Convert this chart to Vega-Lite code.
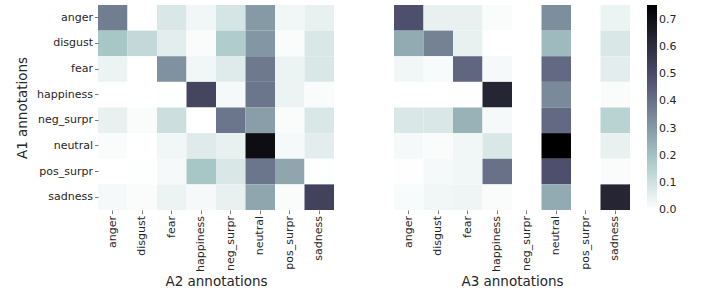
{
  "$schema": "https://vega.github.io/schema/vega-lite/v6.json",
  "padding": {"left": 15, "top": 5, "right": 5, "bottom": 5},
  "background": "white",
  "datasets": {
    "a2": [
      {"a1":"anger","o":"anger","v":0.37},{"a1":"anger","o":"disgust","v":0.0},{"a1":"anger","o":"fear","v":0.08},{"a1":"anger","o":"happiness","v":0.03},{"a1":"anger","o":"neg_surpr","v":0.09},{"a1":"anger","o":"neutral","v":0.30},{"a1":"anger","o":"pos_surpr","v":0.03},{"a1":"anger","o":"sadness","v":0.05},
      {"a1":"disgust","o":"anger","v":0.19},{"a1":"disgust","o":"disgust","v":0.13},{"a1":"disgust","o":"fear","v":0.06},{"a1":"disgust","o":"happiness","v":0.01},{"a1":"disgust","o":"neg_surpr","v":0.17},{"a1":"disgust","o":"neutral","v":0.31},{"a1":"disgust","o":"pos_surpr","v":0.01},{"a1":"disgust","o":"sadness","v":0.08},
      {"a1":"fear","o":"anger","v":0.04},{"a1":"fear","o":"disgust","v":0.0},{"a1":"fear","o":"fear","v":0.32},{"a1":"fear","o":"happiness","v":0.03},{"a1":"fear","o":"neg_surpr","v":0.07},{"a1":"fear","o":"neutral","v":0.38},{"a1":"fear","o":"pos_surpr","v":0.04},{"a1":"fear","o":"sadness","v":0.08},
      {"a1":"happiness","o":"anger","v":0.0},{"a1":"happiness","o":"disgust","v":0.0},{"a1":"happiness","o":"fear","v":0.005},{"a1":"happiness","o":"happiness","v":0.52},{"a1":"happiness","o":"neg_surpr","v":0.02},{"a1":"happiness","o":"neutral","v":0.39},{"a1":"happiness","o":"pos_surpr","v":0.04},{"a1":"happiness","o":"sadness","v":0.01},
      {"a1":"neg_surpr","o":"anger","v":0.05},{"a1":"neg_surpr","o":"disgust","v":0.01},{"a1":"neg_surpr","o":"fear","v":0.11},{"a1":"neg_surpr","o":"happiness","v":0.0},{"a1":"neg_surpr","o":"neg_surpr","v":0.39},{"a1":"neg_surpr","o":"neutral","v":0.29},{"a1":"neg_surpr","o":"pos_surpr","v":0.01},{"a1":"neg_surpr","o":"sadness","v":0.08},
      {"a1":"neutral","o":"anger","v":0.01},{"a1":"neutral","o":"disgust","v":0.0},{"a1":"neutral","o":"fear","v":0.03},{"a1":"neutral","o":"happiness","v":0.07},{"a1":"neutral","o":"neg_surpr","v":0.05},{"a1":"neutral","o":"neutral","v":0.71},{"a1":"neutral","o":"pos_surpr","v":0.02},{"a1":"neutral","o":"sadness","v":0.06},
      {"a1":"pos_surpr","o":"anger","v":0.0},{"a1":"pos_surpr","o":"disgust","v":0.005},{"a1":"pos_surpr","o":"fear","v":0.02},{"a1":"pos_surpr","o":"happiness","v":0.19},{"a1":"pos_surpr","o":"neg_surpr","v":0.08},{"a1":"pos_surpr","o":"neutral","v":0.39},{"a1":"pos_surpr","o":"pos_surpr","v":0.27},{"a1":"pos_surpr","o":"sadness","v":0.005},
      {"a1":"sadness","o":"anger","v":0.02},{"a1":"sadness","o":"disgust","v":0.01},{"a1":"sadness","o":"fear","v":0.04},{"a1":"sadness","o":"happiness","v":0.02},{"a1":"sadness","o":"neg_surpr","v":0.05},{"a1":"sadness","o":"neutral","v":0.27},{"a1":"sadness","o":"pos_surpr","v":0.01},{"a1":"sadness","o":"sadness","v":0.53}
    ],
    "a3": [
      {"a1":"anger","o":"anger","v":0.49},{"a1":"anger","o":"disgust","v":0.05},{"a1":"anger","o":"fear","v":0.05},{"a1":"anger","o":"happiness","v":0.01},{"a1":"anger","o":"neg_surpr","v":0.0},{"a1":"anger","o":"neutral","v":0.33},{"a1":"anger","o":"pos_surpr","v":0.0},{"a1":"anger","o":"sadness","v":0.04},
      {"a1":"disgust","o":"anger","v":0.26},{"a1":"disgust","o":"disgust","v":0.36},{"a1":"disgust","o":"fear","v":0.05},{"a1":"disgust","o":"happiness","v":0.0},{"a1":"disgust","o":"neg_surpr","v":0.0},{"a1":"disgust","o":"neutral","v":0.22},{"a1":"disgust","o":"pos_surpr","v":0.0},{"a1":"disgust","o":"sadness","v":0.08},
      {"a1":"fear","o":"anger","v":0.03},{"a1":"fear","o":"disgust","v":0.015},{"a1":"fear","o":"fear","v":0.43},{"a1":"fear","o":"happiness","v":0.02},{"a1":"fear","o":"neg_surpr","v":0.0},{"a1":"fear","o":"neutral","v":0.42},{"a1":"fear","o":"pos_surpr","v":0.0},{"a1":"fear","o":"sadness","v":0.06},
      {"a1":"happiness","o":"anger","v":0.0},{"a1":"happiness","o":"disgust","v":0.0},{"a1":"happiness","o":"fear","v":0.003},{"a1":"happiness","o":"happiness","v":0.63},{"a1":"happiness","o":"neg_surpr","v":0.0},{"a1":"happiness","o":"neutral","v":0.34},{"a1":"happiness","o":"pos_surpr","v":0.0},{"a1":"happiness","o":"sadness","v":0.01},
      {"a1":"neg_surpr","o":"anger","v":0.08},{"a1":"neg_surpr","o":"disgust","v":0.08},{"a1":"neg_surpr","o":"fear","v":0.24},{"a1":"neg_surpr","o":"happiness","v":0.02},{"a1":"neg_surpr","o":"neg_surpr","v":0.0},{"a1":"neg_surpr","o":"neutral","v":0.42},{"a1":"neg_surpr","o":"pos_surpr","v":0.0},{"a1":"neg_surpr","o":"sadness","v":0.15},
      {"a1":"neutral","o":"anger","v":0.02},{"a1":"neutral","o":"disgust","v":0.01},{"a1":"neutral","o":"fear","v":0.03},{"a1":"neutral","o":"happiness","v":0.08},{"a1":"neutral","o":"neg_surpr","v":0.0},{"a1":"neutral","o":"neutral","v":0.755},{"a1":"neutral","o":"pos_surpr","v":0.0},{"a1":"neutral","o":"sadness","v":0.05},
      {"a1":"pos_surpr","o":"anger","v":0.003},{"a1":"pos_surpr","o":"disgust","v":0.02},{"a1":"pos_surpr","o":"fear","v":0.03},{"a1":"pos_surpr","o":"happiness","v":0.40},{"a1":"pos_surpr","o":"neg_surpr","v":0.0},{"a1":"pos_surpr","o":"neutral","v":0.49},{"a1":"pos_surpr","o":"pos_surpr","v":0.0},{"a1":"pos_surpr","o":"sadness","v":0.01},
      {"a1":"sadness","o":"anger","v":0.015},{"a1":"sadness","o":"disgust","v":0.03},{"a1":"sadness","o":"fear","v":0.035},{"a1":"sadness","o":"happiness","v":0.01},{"a1":"sadness","o":"neg_surpr","v":0.0},{"a1":"sadness","o":"neutral","v":0.26},{"a1":"sadness","o":"pos_surpr","v":0.0},{"a1":"sadness","o":"sadness","v":0.63}
    ]
  },
  "spacing": 60,
  "hconcat": [
    {
      "width": 236,
      "height": 205,
      "data": {"name": "a2"},
      "mark": {"type": "rect", "strokeWidth": 0},
      "encoding": {
        "x": {"field": "o", "type": "nominal", "title": "A2 annotations",
              "sort": ["anger","disgust","fear","happiness","neg_surpr","neutral","pos_surpr","sadness"],
              "scale": {"paddingInner": 0, "paddingOuter": 0}},
        "y": {"field": "a1", "type": "nominal", "title": "A1 annotations",
              "sort": ["anger","disgust","fear","happiness","neg_surpr","neutral","pos_surpr","sadness"],
              "scale": {"paddingInner": 0, "paddingOuter": 0}},
        "color": {"field": "v", "type": "quantitative", "title": null,
                  "scale": {"type": "linear", "domain": [0, 0.1917, 0.4794, 0.755],
                            "range": ["#ffffff", "#a6c6c6", "#515171", "#000000"], "interpolate": "rgb"},
                  "legend": {"values": [0, 0.1, 0.2, 0.3, 0.4, 0.5, 0.6, 0.7], "format": ".1f",
                             "encode": {"labels": {"update": {"baseline": {"value": "middle"}}}}}}
      }
    },
    {
      "width": 236,
      "height": 205,
      "data": {"name": "a3"},
      "mark": {"type": "rect", "strokeWidth": 0},
      "encoding": {
        "x": {"field": "o", "type": "nominal", "title": "A3 annotations",
              "sort": ["anger","disgust","fear","happiness","neg_surpr","neutral","pos_surpr","sadness"],
              "scale": {"paddingInner": 0, "paddingOuter": 0}},
        "y": {"field": "a1", "type": "nominal", "axis": null,
              "sort": ["anger","disgust","fear","happiness","neg_surpr","neutral","pos_surpr","sadness"],
              "scale": {"paddingInner": 0, "paddingOuter": 0}},
        "color": {"field": "v", "type": "quantitative", "title": null,
                  "scale": {"type": "linear", "domain": [0, 0.1917, 0.4794, 0.755],
                            "range": ["#ffffff", "#a6c6c6", "#515171", "#000000"], "interpolate": "rgb"},
                  "legend": {"values": [0, 0.1, 0.2, 0.3, 0.4, 0.5, 0.6, 0.7], "format": ".1f",
                             "encode": {"labels": {"update": {"baseline": {"value": "middle"}}}}}}
      }
    }
  ],
  "config": {
    "font": "DejaVu Sans",
    "view": {"stroke": null},
    "axis": {
      "domain": false, "grid": false,
      "labelFont": "DejaVu Sans", "labelFontSize": 11, "labelColor": "#262626",
      "tickColor": "#555555", "tickSize": 3.5, "tickWidth": 0.8,
      "labelPadding": 2,
      "titleFont": "DejaVu Sans", "titleFontSize": 13.5, "titleFontWeight": "normal", "titleColor": "#262626"
    },
    "axisX": {"labelAngle": -90, "titlePadding": 3},
    "axisY": {"titlePadding": 7},
    "legend": {
      "orient": "right", "offset": 17, "padding": 0,
      "gradientLength": 205, "gradientThickness": 10, "gradientStrokeWidth": 0,
      "labelFont": "DejaVu Sans", "labelFontSize": 11, "labelColor": "#262626",
      "labelOffset": 8, "labelBaseline": "middle", "labelOverlap": false
    }
  }
}
